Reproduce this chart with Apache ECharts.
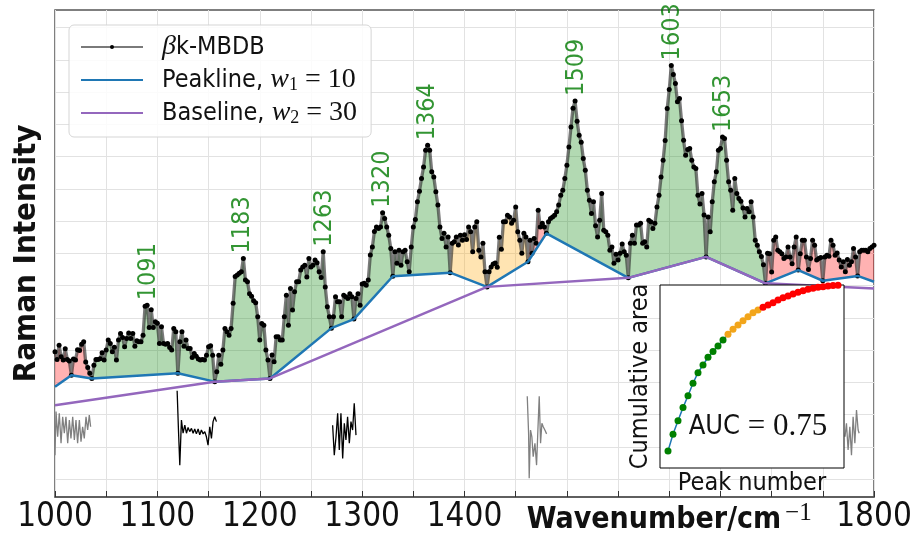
<!DOCTYPE html>
<html>
<head>
<meta charset="utf-8">
<script src="https://cdn.jsdelivr.net/npm/echarts@6/dist/echarts.min.js"></script>
<style>
  html, body { margin: 0; padding: 0; background: #fff; }
  #chart { width: 916px; height: 547px; }
</style>
</head>
<body>
<div id="chart"></div>
<script>
const NARROW = "'DejaVu Sans Condensed', 'DejaVu Sans', sans-serif";
const SERIF = "'Liberation Serif', 'DejaVu Serif', serif";

// spectrum, sampled every 2 cm-1 from 1000 to 1800
const wnStart = 1000;
const wnStep = 2;
const intensity = [
  395,371,415,379,369,404,371,366,322,372,
  369,401,399,418,426,363,346,328,312,353,
  371,371,373,392,369,400,431,420,395,409,
  369,431,451,439,410,436,453,436,451,412,
  429,426,426,446,536,539,470,525,470,488,
  483,
  420,472,420,418,420,408,400,467,457,328,
  426,457,412,431,405,405,377,389,381,372,
  369,371,369,384,410,413,384,302,333,384,
  356,400,467,457,446,467,545,628,633,638,
  643,684,617,612,575,567,553,547,503,431,
  482,477,400,369,312,385,364,441,441,431,
  431,503,570,477,591,524,581,612,612,648,
  658,663,627,684,658,663,679,671,643,625,
  705,596,534,503,468,503,565,550,550,503,
  570,565,560,575,565,496,560,575,539,605,
  607,601,617,695,720,768,782,777,782,826,
  808,782,756,715,629,705,669,710,663,705,
  710,674,643,720,782,805,860,893,932,968,
  1020,1035,1020,953,937,891,850,782,746,762,
  720,751,640,731,736,751,726,756,741,758,
  743,782,767,705,782,798,710,689,731,643,
  596,643,658,667,670,657,750,713,798,798,
  818,813,793,803,844,767,741,700,762,751,
  674,741,700,746,731,834,782,793,782,762,
  798,808,813,818,829,850,880,896,932,973,
  1030,1092,1150,1173,1110,1066,1045,994,958,896,
  865,824,860,786,751,803,886,772,767,756,
  710,720,669,697,679,700,729,705,694,624,
  731,756,731,788,788,793,731,736,720,803,
  798,777,793,844,880,937,989,1050,1149,1208,
  1283,1255,1227,1170,1180,1111,1051,1004,1022,1025,
  989,968,963,880,853,886,819,689,813,767,
  860,922,953,1020,1025,1061,1056,989,922,896,
  834,932,886,870,862,841,813,839,829,860,
  813,741,725,705,690,665,607,700,699,642,
  741,751,710,705,699,684,689,720,689,668,
  720,751,648,699,741,741,689,650,684,741,
  725,679,684,687,615,689,694,691,741,725,
  694,701,679,658,674,643,681,663,674,715,
  689,630,705,710,710,710,705,715,720,725
];

// peakline (w1 = 10) nodes
const peakWn = [1000,1016,1036,1120,1156,1210,1270,1292,1330,1386,1422,1462,1480,1560,1636,1694,1726,1750,1784,1800];
const peakV  = [286, 322, 312, 328, 302, 312, 468, 496, 629, 640, 596, 674, 762, 624, 689, 607, 648, 615, 630, 612];
// class of each peakline segment
const segClass = ['noise','noise','peak','peak','peak','peak','peak','peak','peak','weak','weak','noise','peak','peak','peak','noise','noise','noise','noise'];

// baseline (w2 = 30) nodes
const baseWn = [1000,1156,1210,1422,1560,1636,1694,1800];
const baseV  = [229, 302, 312, 596, 624, 689, 607, 591];

// labelled peaks
const peakPos = [1091,1183,1263,1320,1364,1509,1603,1653];
const peakTop = [539, 684, 705, 826, 1035,1173,1283,1061];

// residual traces under the spectrum
const resid1 = [[1000,74],[1001,209],[1002.6,131],[1004.2,204],[1005.9,111],[1007.5,193],[1009.1,142],[1010.7,193],[1012.4,111],[1014,183],[1015.6,126],[1017.3,193],[1018.9,121],[1020.5,183],[1022.1,111],[1023.8,183],[1025.4,116],[1027,162],[1028.6,126],[1030.3,193],[1031.9,152],[1033.5,198],[1034.8,162]];
const resid2 = [[1119.3,274],[1120.6,152],[1121.9,43],[1123.5,183],[1125.1,142],[1126.8,167],[1128.4,142],[1130,160],[1131.6,147],[1133.3,157],[1134.9,142],[1136.5,155],[1138.1,140],[1139.8,155],[1141.4,137],[1143,152],[1144.7,140],[1146.3,147],[1147.9,131],[1149.5,105],[1151.2,162],[1152.8,126],[1154.4,178],[1156,193],[1157.7,178]];
const resid3 = [[1271.2,167],[1272.8,74],[1274.5,131],[1276.1,204],[1277.7,90],[1279.3,204],[1281,64],[1282.6,173],[1284.2,121],[1285.8,193],[1287.5,111],[1289.1,178],[1290.7,152],[1292.3,235],[1294,136]];
const resid4 = [[1461.3,257],[1462.6,142],[1463.2,2],[1464.5,152],[1465.8,131],[1467.1,69],[1468.8,111],[1470.4,43],[1471.7,152],[1473,257],[1474.3,111],[1475.6,173],[1476.9,162],[1478.5,152],[1480.2,140]];
const resid5 = [[1771.7,131],[1773.1,173],[1774.7,90],[1776.4,162],[1778,74],[1779.6,193],[1781.3,111],[1782.9,214],[1784.5,152],[1785.5,142]];

// inset: cumulative area by peak number
const cumArea = [0.093,0.184,0.258,0.330,0.395,0.463,0.521,0.563,0.605,0.636,0.667,0.699,
  0.731,0.758,0.781,0.805,0.827,0.849,0.863,
  0.878,0.891,0.903,0.918,0.931,0.940,0.951,0.960,0.969,0.977,0.982,0.988,0.991,0.995,0.997,0.998];
const nGreen = 12, nOrange = 7;

const spectrum = intensity.map((v, i) => [wnStart + i * wnStep, v]);
const peakline = peakWn.map((x, i) => [x, peakV[i]]);
const baseline = baseWn.map((x, i) => [x, baseV[i]]);
const cumPts = cumArea.map((v, i) => [i, v]);

const fillColor = { noise: 'rgba(255,0,0,0.3)', peak: 'rgba(0,128,0,0.3)', weak: 'rgba(255,165,0,0.3)' };

function renderFill(params, api) {
  const i = api.value(1);
  const x0 = peakWn[i], x1 = peakWn[i + 1];
  const pts = [api.coord([x0, peakV[i]])];
  spectrum.forEach(p => { if (p[0] >= x0 && p[0] <= x1) pts.push(api.coord(p)); });
  pts.push(api.coord([x1, peakV[i + 1]]));
  return { type: 'polygon', shape: { points: pts }, style: { fill: fillColor[segClass[i]] } };
}

const chart = echarts.init(document.getElementById('chart'));

const legendText = {
  'βk-MBDB': '{sp| }{m|β}{t|k-MBDB}',
  'Peakline': '{sp| }{t|Peakline, }{m|w}{sub|1}{r| = 10}',
  'Baseline': '{sp| }{t|Baseline, }{m|w}{sub|2}{r| = 30}'
};

chart.setOption({
  animation: false,
  textStyle: { fontFamily: NARROW },
  grid: [
    { left: 55, right: 42, top: 10, bottom: 50, show: true, borderColor: '#555', borderWidth: 1.5,
      backgroundColor: 'transparent', outerBoundsMode: 'none', containLabel: false },
    { left: 55, right: 42, top: 27.7, bottom: 68, outerBoundsMode: 'none', containLabel: false },
    { left: 660, top: 285, width: 184, height: 183, show: true, backgroundColor: '#fff',
      borderColor: '#000', borderWidth: 1, z: 5, outerBoundsMode: 'none', containLabel: false }
  ],
  xAxis: [
    { gridIndex: 0, type: 'value', min: 1000, max: 1800, interval: 50,
      axisLine: { show: true, lineStyle: { color: '#555', width: 1.5 } },
      axisTick: { show: true, inside: true, length: 6, lineStyle: { color: '#333' } },
      splitLine: { show: true, lineStyle: { color: '#e2e2e2', width: 1 } },
      axisLabel: {
        margin: 4, fontSize: 33, color: '#111', fontFamily: NARROW,
        formatter: v => {
          if (v % 100 !== 0 || v === 1500 || v === 1700) return '';
          if (v === 1600) return '{n|Wavenumber/cm}{s|−1}';
          return String(v);
        },
        rich: {
          n: { fontSize: 30, fontWeight: 'bold', fontFamily: NARROW, color: '#111' },
          s: { fontSize: 25, fontFamily: SERIF, color: '#111', padding: [0, 0, 14, 4] }
        }
      } },
    { gridIndex: 1, type: 'value', min: 1000, max: 1800, show: false },
    { gridIndex: 2, type: 'value', min: -1.6, max: 35.2, axisLine: { show: false },
      axisTick: { show: false }, axisLabel: { show: false }, splitLine: { show: false },
      name: 'Peak number', nameLocation: 'middle', nameGap: 3,
      nameTextStyle: { fontSize: 25, color: '#111', fontFamily: NARROW, verticalAlign: 'top' } }
  ],
  yAxis: [
    { gridIndex: 0, type: 'value', min: 0, max: 1, show: false },
    { gridIndex: 1, type: 'value', min: 0, max: 1400, interval: 100,
      axisLine: { show: false }, axisTick: { show: false }, axisLabel: { show: false },
      splitLine: { show: true, lineStyle: { color: '#e2e2e2', width: 1 } },
      name: 'Raman Intensity', nameLocation: 'middle', nameGap: 13,
      nameTextStyle: { fontSize: 31, fontWeight: 'bold', color: '#111', fontFamily: NARROW } },
    { gridIndex: 2, type: 'value', min: 0, max: 1, axisLine: { show: false },
      axisTick: { show: false }, axisLabel: { show: false }, splitLine: { show: false },
      name: 'Cumulative area', nameLocation: 'middle', nameGap: 7,
      nameTextStyle: { fontSize: 25, color: '#111', fontFamily: NARROW } }
  ],
  legend: {
    left: 69, top: 25, orient: 'vertical', itemWidth: 62, itemHeight: 5, itemGap: 5,
    padding: [8, 14, 10, 11], backgroundColor: 'rgba(255,255,255,0.85)',
    borderColor: '#d5d5d5', borderWidth: 1, borderRadius: 5,
    data: [
      { name: 'βk-MBDB' },
      { name: 'Peakline', itemStyle: { opacity: 0 } },
      { name: 'Baseline', itemStyle: { opacity: 0 } }
    ],
    formatter: name => legendText[name],
    textStyle: {
      fontSize: 25, color: '#111',
      rich: {
        sp: { width: 14 },
        t: { fontSize: 25, fontFamily: NARROW, color: '#111' },
        m: { fontSize: 28, fontFamily: SERIF, fontStyle: 'italic', color: '#111' },
        sub: { fontSize: 18, fontFamily: SERIF, color: '#111', verticalAlign: 'bottom' },
        r: { fontSize: 28, fontFamily: SERIF, color: '#111' }
      }
    }
  },
  graphic: [
    { type: 'text', x: 758, y: 427, z: 100,
      style: { text: '{a|AUC}{b| = 0.75}', align: 'center', verticalAlign: 'middle',
        rich: {
          a: { fontSize: 27, fontFamily: NARROW, fill: '#111' },
          b: { fontSize: 31, fontFamily: SERIF, fill: '#111' }
        } } }
  ],
  series: [
    { type: 'custom', name: 'fill', xAxisIndex: 1, yAxisIndex: 1, clip: true, silent: true, z: 1,
      renderItem: renderFill, encode: { x: 0, y: 1 },
      data: segClass.map((c, i) => [peakWn[i], i]) },
    { type: 'line', name: 'βk-MBDB', xAxisIndex: 1, yAxisIndex: 1, data: spectrum,
      symbol: 'circle', symbolSize: 5, showSymbol: true, silent: true, z: 2,
      itemStyle: { color: '#000' }, lineStyle: { color: 'rgba(40,40,40,0.62)', width: 3.3 } },
    { type: 'line', name: 'Peakline', xAxisIndex: 1, yAxisIndex: 1, data: peakline,
      symbol: 'none', silent: true, z: 3,
      itemStyle: { color: '#1f77b4' }, lineStyle: { color: '#1f77b4', width: 2.5 } },
    { type: 'line', name: 'Baseline', xAxisIndex: 1, yAxisIndex: 1, data: baseline,
      symbol: 'none', silent: true, z: 3,
      itemStyle: { color: '#9467bd' }, lineStyle: { color: '#9467bd', width: 2.5 } },
    { type: 'line', name: 'r1', xAxisIndex: 1, yAxisIndex: 1, data: resid1, symbol: 'none', silent: true,
      lineStyle: { color: '#808080', width: 1.3 } },
    { type: 'line', name: 'r2', xAxisIndex: 1, yAxisIndex: 1, data: resid2, symbol: 'none', silent: true,
      lineStyle: { color: '#000', width: 1.3 } },
    { type: 'line', name: 'r3', xAxisIndex: 1, yAxisIndex: 1, data: resid3, symbol: 'none', silent: true,
      lineStyle: { color: '#000', width: 1.3 } },
    { type: 'line', name: 'r4', xAxisIndex: 1, yAxisIndex: 1, data: resid4, symbol: 'none', silent: true,
      lineStyle: { color: '#808080', width: 1.3 } },
    { type: 'line', name: 'r5', xAxisIndex: 1, yAxisIndex: 1, data: resid5, symbol: 'none', silent: true,
      lineStyle: { color: '#808080', width: 1.3 } },
    { type: 'scatter', name: 'labels', xAxisIndex: 1, yAxisIndex: 1, symbolSize: 0, silent: true, z: 4,
      data: peakPos.map((x, i) => [x, peakTop[i]]),
      label: { show: true, position: 'top', distance: 5, rotate: 90, align: 'left', verticalAlign: 'middle',
        formatter: p => String(p.value[0]), color: '#007a00', fontSize: 25, fontFamily: NARROW } },
    { type: 'line', name: 'cum', xAxisIndex: 2, yAxisIndex: 2, data: cumPts, symbol: 'none', silent: true,
      z: 6, lineStyle: { color: '#1f77b4', width: 1.5 }, clip: false },
    { type: 'scatter', name: 'cumG', xAxisIndex: 2, yAxisIndex: 2, data: cumPts.slice(0, nGreen),
      symbolSize: 7, z: 7, silent: true, itemStyle: { color: '#008000', opacity: 1 }, clip: false },
    { type: 'scatter', name: 'cumO', xAxisIndex: 2, yAxisIndex: 2, data: cumPts.slice(nGreen, nGreen + nOrange),
      symbolSize: 7, z: 7, silent: true, itemStyle: { color: '#f2a51a', opacity: 1 }, clip: false },
    { type: 'scatter', name: 'cumR', xAxisIndex: 2, yAxisIndex: 2, data: cumPts.slice(nGreen + nOrange),
      symbolSize: 7, z: 7, silent: true, itemStyle: { color: '#ff0000', opacity: 1 }, clip: false }
  ]
});
</script>
</body>
</html>
